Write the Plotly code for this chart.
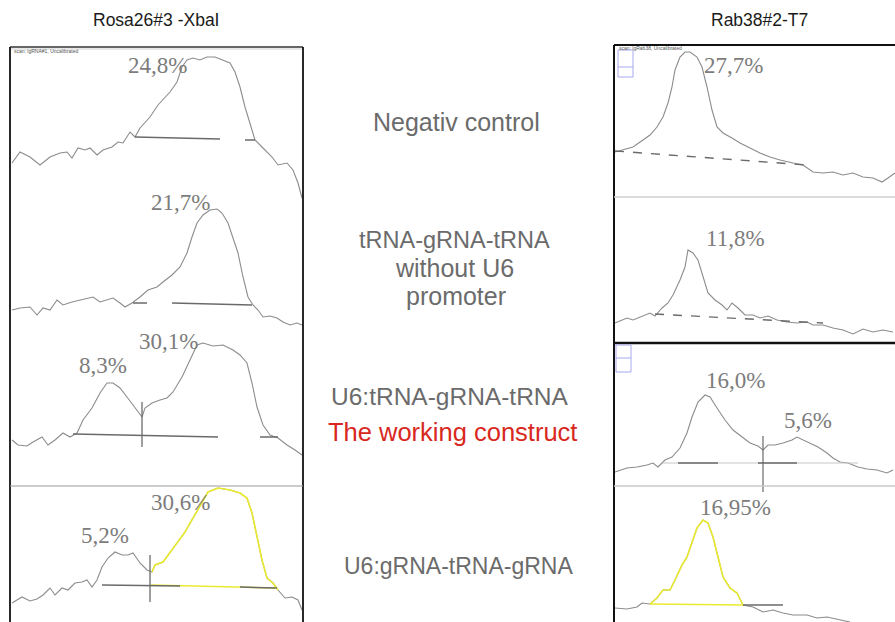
import plotly.graph_objects as go

W, H = 895, 622

# ---------------- data (lane position, band intensity) ----------------
# Left column: Rosa26#3 -XbaI
L1_pos = [12, 20, 30, 40, 50, 60, 67, 72, 78, 85, 90, 97, 103, 112, 118, 123, 130, 135, 140, 150, 158, 163, 170, 177,
          182, 187, 193, 200, 207, 215, 222, 230, 235, 240, 245, 250, 255, 263, 272, 278, 287, 293, 298, 302]
L1_int = [37, 48, 43, 35, 43, 47, 48, 42, 52, 50, 52, 45, 50, 53, 58, 57, 68, 63, 72, 83, 95, 100, 108, 118,
          133, 140, 142, 140, 143, 143, 140, 137, 128, 113, 93, 77, 60, 52, 43, 35, 37, 30, 17, 2]

L2_pos = [12, 20, 30, 37, 43, 50, 57, 63, 72, 80, 87, 93, 100, 107, 113, 120, 125, 132, 140, 148, 157, 163, 172, 180,
          187, 192, 197, 203, 210, 217, 222, 228, 233, 238, 243, 248, 253, 258, 263, 270, 277, 283, 290, 297, 302]
L2_int = [20, 22, 23, 15, 22, 20, 30, 25, 28, 30, 32, 33, 28, 30, 32, 27, 23, 27, 33, 40, 43, 48, 55, 63,
          77, 93, 107, 115, 120, 121, 117, 107, 93, 77, 53, 33, 25, 20, 13, 14, 12, 8, 5, 7, 5]

L3_pos = [12, 18, 27, 33, 42, 48, 55, 63, 70, 77, 83, 92, 100, 107, 113, 120, 127, 133, 138, 142, 145, 152, 160, 167,
          173, 182, 190, 197, 203, 213, 223, 233, 240, 247, 252, 257, 263, 270, 278, 287, 295, 302]
L3_int = [46, 41, 40, 44, 49, 41, 46, 53, 49, 53, 66, 78, 93, 103, 103, 98, 89, 81, 74, 69, 78, 83, 86, 88,
          94, 109, 126, 141, 143, 140, 141, 136, 131, 123, 103, 79, 61, 51, 48, 41, 36, 31]

L4_pos = [12, 22, 30, 37, 43, 50, 55, 62, 68, 75, 82, 87, 92, 97, 102, 108, 115, 122, 128, 133, 140, 147, 152, 155,
          163, 170, 177, 185, 193, 202, 208, 218, 230, 240, 247, 252, 257, 262, 267, 273, 278, 285, 292, 298, 302]
L4_int = [19, 25, 21, 23, 27, 34, 27, 34, 32, 39, 40, 42, 35, 42, 55, 64, 70, 67, 67, 69, 59, 52, 50, 57,
          60, 70, 79, 90, 104, 119, 130, 134, 132, 129, 124, 109, 85, 62, 44, 39, 32, 24, 25, 22, 12]

# Right column: Rab38#2-T7
R1_pos = [615, 623, 633, 643, 650, 657, 663, 668, 672, 675, 680, 685, 690, 697, 702, 707, 712, 717, 723, 732, 740,
          750, 760, 770, 780, 793, 803, 813, 823, 833, 843, 853, 863, 873, 882, 888, 895]
R1_int = [45, 47, 50, 57, 62, 70, 80, 94, 110, 127, 140, 145, 145, 140, 130, 110, 87, 70, 64, 59, 54,
          49, 44, 40, 37, 34, 32, 25, 24, 25, 22, 24, 20, 19, 15, 19, 24]

R2_pos = [615, 627, 633, 640, 650, 655, 662, 668, 673, 680, 685, 688, 693, 698, 703, 708, 715, 722, 727, 732, 738,
          745, 753, 760, 768, 777, 787, 797, 807, 813, 823, 833, 843, 853, 863, 873, 883, 893]
R2_int = [20, 25, 23, 26, 30, 27, 35, 40, 48, 63, 76, 93, 90, 83, 66, 50, 43, 38, 33, 40, 35,
          28, 28, 25, 27, 23, 21, 20, 21, 18, 18, 15, 13, 9, 14, 11, 13, 11]

R3_pos = [615, 627, 637, 647, 653, 658, 665, 672, 680, 687, 692, 698, 705, 710, 717, 725, 733, 742, 750, 758, 763,
          768, 775, 783, 792, 797, 803, 810, 818, 827, 833, 840, 848, 858, 867, 877, 887, 893]
R3_int = [14, 18, 19, 21, 23, 19, 26, 29, 38, 53, 69, 84, 91, 89, 78, 66, 56, 49, 43, 40, 36,
          41, 41, 43, 46, 49, 46, 43, 39, 33, 28, 24, 23, 19, 17, 16, 13, 16]

R4_pos = [615, 627, 637, 642, 650, 657, 663, 670, 675, 682, 687, 692, 697, 703, 708, 713, 718, 723, 730, 737, 743,
          753, 763, 773, 783, 793, 807, 817, 827, 840, 850]
R4_int = [14, 13, 15, 19, 18, 24, 32, 32, 42, 57, 65, 80, 94, 102, 99, 85, 64, 45, 34, 29, 17,
          15, 10, 12, 9, 7, 7, 4, 5, 2, 0]

# percentages (label, lane position, intensity) per panel
L1_labels = [("24,8%", 157, 135)]
L2_labels = [("21,7%", 180, 127)]
L3_labels = [("8,3%", 103, 121), ("30,1%", 168, 145)]
L4_labels = [("5,2%", 105, 87), ("30,6%", 180, 120)]
R1_labels = [("27,7%", 733, 132)]
R2_labels = [("11,8%", 735, 105)]
R3_labels = [("16,0%", 735, 106), ("5,6%", 808, 66)]
R4_labels = [("16,95%", 735, 115)]

column_titles = ["Rosa26#3 -XbaI", "Rab38#2-T7"]
row_labels = ["Negativ control", "tRNA-gRNA-tRNA", "without U6", "promoter",
              "U6:tRNA-gRNA-tRNA", "The working construct", "U6:gRNA-tRNA-gRNA"]

# ---------------- layout helpers ----------------
def fx(px):
    return px / W

def fy(py):
    return 1 - py / H

TRACE = "#8c8c8c"
BASE = "#6a6a6a"
YEL = "#eaea30"
LABEL_FONT = dict(family="Liberation Serif", size=23, color="#7c7c7c")

# panel boxes in page pixels: left, right, top, bottom, y-range low
panels = {
    "L1": dict(box=(10, 303, 47, 200), ylo=0),
    "L2": dict(box=(10, 303, 195, 330), ylo=0),
    "L3": dict(box=(10, 303, 330, 486), ylo=0),
    "L4": dict(box=(10, 303, 486, 622), ylo=0),
    "R1": dict(box=(614, 895, 45, 197), ylo=0),
    "R2": dict(box=(614, 895, 197, 343), ylo=0),
    "R3": dict(box=(614, 895, 343, 492), ylo=-6),
    "R4": dict(box=(614, 895, 486, 622), ylo=0),
}

fig = go.Figure()
axis_ids = {}
for i, (name, p) in enumerate(panels.items(), start=1):
    l, r, t, b = p["box"]
    xa = "xaxis" if i == 1 else f"xaxis{i}"
    ya = "yaxis" if i == 1 else f"yaxis{i}"
    xr = "x" if i == 1 else f"x{i}"
    yr = "y" if i == 1 else f"y{i}"
    axis_ids[name] = (xr, yr)
    fig.update_layout(**{
        xa: dict(domain=[fx(l), fx(r)], range=[l, r], visible=False, anchor=yr, fixedrange=True),
        ya: dict(domain=[fy(b), fy(t)], range=[p["ylo"], (b - t) + p["ylo"]], visible=False,
                 anchor=xr, fixedrange=True),
    })


def line(panel, xs, ys, color, width=1.1, dash="solid"):
    xr, yr = axis_ids[panel]
    fig.add_trace(go.Scatter(x=xs, y=ys, mode="lines", xaxis=xr, yaxis=yr,
                             line=dict(color=color, width=width, dash=dash),
                             hoverinfo="skip", showlegend=False))


def labels(panel, items):
    xr, yr = axis_ids[panel]
    for txt, x, y in items:
        fig.add_annotation(x=x, y=y, xref=xr, yref=yr, text=txt, showarrow=False,
                           font=LABEL_FONT, xanchor="center", yanchor="middle")


def segment(pos, val, lo, hi):
    pts = [(p, v) for p, v in zip(pos, val) if lo <= p <= hi]
    return [p for p, _ in pts], [v for _, v in pts]

# ---- left column ----
line("L1", L1_pos, L1_int, TRACE)
line("L1", [135, 220], [63, 61], BASE, 1.5)
line("L1", [245, 255], [60, 60], BASE, 1.5)
labels("L1", L1_labels)

line("L2", L2_pos, L2_int, TRACE)
line("L2", [133, 147], [27, 27], BASE, 1.5)
line("L2", [172, 252], [27, 25], BASE, 1.5)
labels("L2", L2_labels)

line("L3", L3_pos, L3_int, TRACE)
line("L3", [73, 218], [52, 49], BASE, 1.5)
line("L3", [260, 278], [49, 49], BASE, 1.5)
line("L3", [142, 142], [84, 39], BASE, 1.3)
labels("L3", L3_labels)

line("L4", L4_pos, L4_int, TRACE)
sx, sy = segment(L4_pos, L4_int, 152, 278)
line("L4", sx, sy, YEL, 1.6)
line("L4", [151, 277], [37, 34], YEL, 1.6)
line("L4", [102, 180], [37, 36], BASE, 1.5)
line("L4", [240, 277], [35, 34], BASE, 1.5)
line("L4", [150, 150], [67, 20], BASE, 1.3)
labels("L4", L4_labels)

# ---- right column ----
line("R1", R1_pos, R1_int, TRACE)
line("R1", [615, 807], [46, 32], BASE, 1.4, "dash")
labels("R1", R1_labels)

line("R2", R2_pos, R2_int, TRACE)
line("R2", [655, 823], [29, 20], BASE, 1.4, "dash")
labels("R2", R2_labels)

line("R3", R3_pos, R3_int, TRACE)
line("R3", [663, 858], [23, 23], "#c8c8c8", 1.2)
line("R3", [678, 718], [23, 23], BASE, 1.5)
line("R3", [758, 797], [23, 23], BASE, 1.5)
line("R3", [763, 763], [50, -6], BASE, 1.2)
labels("R3", R3_labels)

line("R4", R4_pos, R4_int, TRACE)
sx, sy = segment(R4_pos, R4_int, 650, 743)
line("R4", sx, sy, YEL, 1.6)
line("R4", [650, 743], [18, 17], YEL, 1.6)
line("R4", [743, 783], [17, 17], BASE, 1.5)
labels("R4", R4_labels)

# ---------------- frames ----------------
shapes = []
def pline(x0, y0, x1, y1, color, width):
    shapes.append(dict(type="line", xref="paper", yref="paper", x0=fx(x0), y0=fy(y0), x1=fx(x1), y1=fy(y1),
                       line=dict(color=color, width=width)))

def prect(x0, y0, x1, y1, color, width=1):
    shapes.append(dict(type="rect", xref="paper", yref="paper", x0=fx(x0), y0=fy(y0), x1=fx(x1), y1=fy(y1),
                       line=dict(color=color, width=width)))

# left frame
pline(10, 47, 303, 47, "#333333", 1.5)
pline(10, 49, 303, 49, "#cfcfcf", 1)
pline(10, 47, 10, 622, "#111111", 1.8)
pline(303, 47, 303, 622, "#111111", 1.8)
pline(10, 486, 303, 486, "#9a9a9a", 1.2)
# right frame
pline(614, 45, 895, 45, "#111111", 2)
pline(614, 45, 614, 622, "#111111", 2)
pline(614, 197, 895, 197, "#d0d0d0", 1.5)
pline(614, 343, 895, 343, "#111111", 2.5)
pline(614, 486, 895, 486, "#c8c8c8", 1.5)
# small selection boxes
prect(618, 50, 633, 77, "#a8a8f0", 1)
pline(618, 67, 633, 67, "#a8a8f0", 1)
prect(616, 345, 631, 372, "#a8a8f0", 1)
pline(616, 358, 631, 358, "#a8a8f0", 1)
fig.update_layout(shapes=shapes)

# ---------------- text ----------------
def ptext(txt, x, y, size, color, family="Liberation Sans", xanchor="center"):
    fig.add_annotation(x=fx(x), y=fy(y), xref="paper", yref="paper", text=txt, showarrow=False,
                       font=dict(family=family, size=size, color=color), xanchor=xanchor, yanchor="middle")

ptext(column_titles[0], 156, 20, 17.5, "#1a1a1a")
ptext(column_titles[1], 759, 20, 17.5, "#1a1a1a")
ptext("scan: lgRNA#1, Uncalibrated", 12, 51, 5, "#555555", xanchor="left")
ptext("scan: lgRab38, Uncalibrated", 617, 48, 5, "#555555", xanchor="left")

GRAY = "#6b6b6b"
ptext(row_labels[0], 457, 122, 25, GRAY)
ptext(row_labels[1], 455, 240, 23.5, GRAY)
ptext(row_labels[2], 455, 268, 25, GRAY)
ptext(row_labels[3], 456, 296, 25, GRAY)
ptext(row_labels[4], 450, 397, 24.5, GRAY)
ptext(row_labels[5], 452, 432, 25.5, "#d8281e")
ptext(row_labels[6], 459, 566, 23, GRAY)

fig.update_layout(width=W, height=H, margin=dict(l=0, r=0, t=0, b=0),
                  paper_bgcolor="white", plot_bgcolor="rgba(0,0,0,0)", showlegend=False)

fig.write_html("out.html", config={"displayModeBar": False, "staticPlot": True},
               post_script="document.body.style.margin='0';document.body.style.padding='0';"
                           "document.body.style.overflow='hidden';")
